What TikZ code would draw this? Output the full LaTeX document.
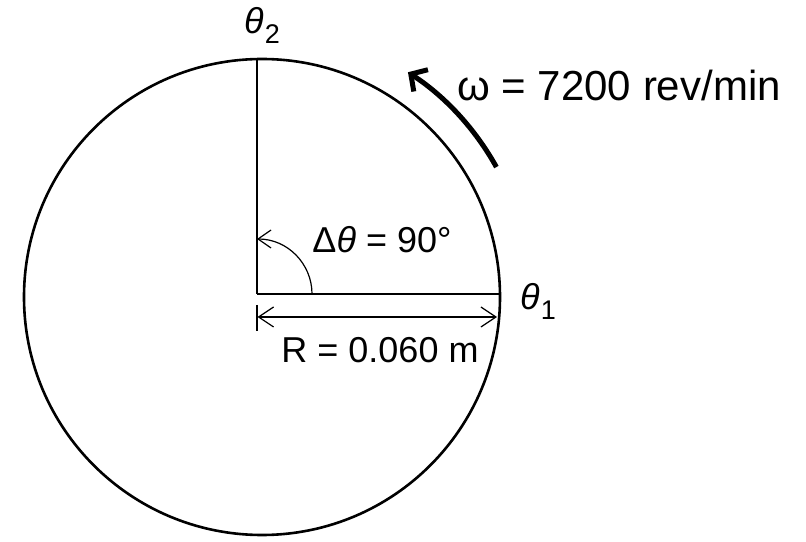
\documentclass[tikz,border=0pt]{standalone}
\usepackage{fontspec}
\setmainfont{Liberation Sans}
\usetikzlibrary{arrows.meta}
\newcommand{\thetaS}{{\itshape θ}}
\newcommand{\subS}[1]{\kern1pt\raisebox{-10pt}{\fontsize{27}{27}\selectfont #1}}
\begin{document}
\begin{tikzpicture}[x=1pt,y=1pt,
  lbl/.style={inner sep=0pt, font=\fontsize{36}{42}\selectfont},
  biglbl/.style={inner sep=0pt, font=\fontsize{42}{50}\selectfont},
  thinline/.style={line width=1.2pt},
]
\useasboundingbox (0,0) rectangle (806,541);
\coordinate (C) at (262,244);
\coordinate (O) at (257,247);
\coordinate (T) at (257,482);
\coordinate (E) at (500,247);
% wheel
\draw[line width=2.6pt] (C) circle[radius=238];
% radii
\draw[line width=1.6pt] (O) -- (T);
\draw[line width=2pt] (O) -- (E);
% angle arc
\coordinate (A0) at (312,247);
\draw[thinline, -{Straight Barb[length=13pt,width=18pt,line width=1.2pt]}] (A0) arc[start angle=0,end angle=90,radius=55];
% dimension line
\coordinate (D1) at (257.5,224);
\coordinate (D2) at (497,224);
\coordinate (K1) at (257,236);
\coordinate (K2) at (257,210);
\draw[thinline] (K1) -- (K2);
\draw[thinline, {Straight Barb[length=15pt,width=20pt,line width=1.2pt]}-{Straight Barb[length=15pt,width=20pt,line width=1.2pt]}] (D1) -- (D2);
% rotation arrow
\coordinate (W1) at ([shift={(29:268)}]C);
\draw[line width=5pt, -{Straight Barb[length=12pt,width=26pt,line width=5pt]}] (W1) arc[start angle=29,end angle=57,radius=268];
% labels
\node[lbl] (th2) at (262,516) {\thetaS\subS{2}};
\node[lbl] (th1) at (538,240) {\thetaS\subS{1}};
\node[lbl] (dth) at (382,301) {Δ\thetaS{} = 90°};
\node[lbl] (rad) at (380,191) {R = 0.060 m};
\node[biglbl] (om) at (619,456) {ω = 7200 rev/min};
\end{tikzpicture}
\end{document}
